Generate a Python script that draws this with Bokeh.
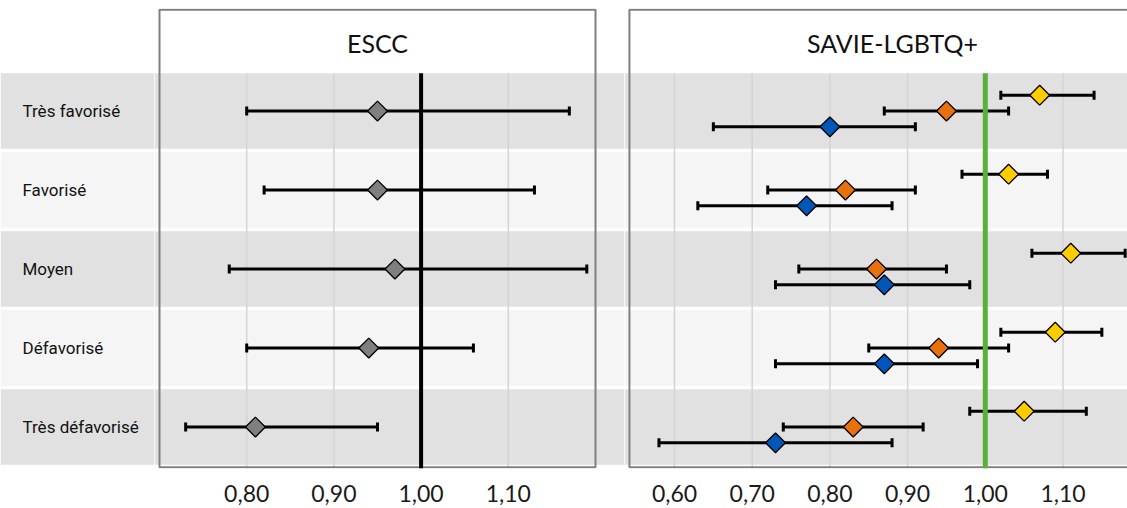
import numpy as np
from bokeh.plotting import figure
from bokeh.models import Range1d, FixedTicker, CustomJSTickFormatter, BoxAnnotation
from bokeh.layouts import row
from bokeh.embed import file_html
from bokeh.resources import INLINE
from bokeh.core.properties import value

# ---------------- data ----------------
categories = ["Très favorisé", "Favorisé", "Moyen", "Défavorisé", "Très défavorisé"]

escc_est = [0.95, 0.95, 0.97, 0.94, 0.81]
escc_lo = [0.80, 0.82, 0.78, 0.80, 0.73]
escc_hi = [1.17, 1.13, 1.19, 1.06, 0.95]

savie_jaune_est = [1.07, 1.03, 1.11, 1.09, 1.05]
savie_jaune_lo = [1.02, 0.97, 1.06, 1.02, 0.98]
savie_jaune_hi = [1.14, 1.08, 1.18, 1.15, 1.13]

savie_orange_est = [0.95, 0.82, 0.86, 0.94, 0.83]
savie_orange_lo = [0.87, 0.72, 0.76, 0.85, 0.74]
savie_orange_hi = [1.03, 0.91, 0.95, 1.03, 0.92]

savie_bleu_est = [0.80, 0.77, 0.87, 0.87, 0.73]
savie_bleu_lo = [0.65, 0.63, 0.73, 0.73, 0.58]
savie_bleu_hi = [0.91, 0.88, 0.98, 0.99, 0.88]

escc_ticks = [0.80, 0.90, 1.00, 1.10]
savie_ticks = [0.60, 0.70, 0.80, 0.90, 1.00, 1.10]
reference_value = 1.00

panel_titles = ["ESCC", "SAVIE-LGBTQ+"]

# ---------------- layout / style ----------------
ROW_PX = 79.0
FRAME_H = 460
TOP_PAD = 8
BOTTOM_PAD = 40
Y_BOTTOM = 0.475
Y_TOP = Y_BOTTOM + FRAME_H / ROW_PX
BAND_HALF = 0.4775
BAND_TOP = 5 + BAND_HALF
rows_y = [5, 4, 3, 2, 1]
OFFSET = 0.2

BAND_COLORS = ["#e1e1e1", "#f5f5f5", "#e1e1e1", "#f5f5f5", "#e1e1e1"]
BORDER_COLOR = "#7f7f7f"
GRID_COLOR = "#d4d4d4"
TICK_FONT = "Lato"
LABEL_FONT = "Roboto"

LABEL_W = 154
ESCC_W = 470
SAVIE_W = 503

ESCC_PX_UNIT = 872.0
ESCC_PANEL = (0.70, 1.20)
escc_start = ESCC_PANEL[0] - 5 / ESCC_PX_UNIT
escc_end = escc_start + ESCC_W / ESCC_PX_UNIT

SAVIE_PX_UNIT = 777.0
SAVIE_PANEL = (0.542, 1.219)
savie_start = 0.60 - 50 / SAVIE_PX_UNIT
savie_end = savie_start + SAVIE_W / SAVIE_PX_UNIT

BORDER_B = Y_BOTTOM + 1.2 / ROW_PX
BORDER_T = Y_TOP - 1.2 / ROW_PX

fmt = CustomJSTickFormatter(code="return tick.toFixed(2).replace('.', ',');")


def base_fig(w, xr):
    p = figure(frame_width=w, frame_height=FRAME_H, x_range=xr,
               y_range=Range1d(Y_BOTTOM, Y_TOP), output_backend="svg",
               toolbar_location=None, tools="", y_axis_location=None)
    p.min_border = 0
    p.min_border_top = TOP_PAD
    p.min_border_bottom = BOTTOM_PAD
    p.outline_line_color = None
    p.background_fill_color = "white"
    p.border_fill_color = "white"
    p.grid.visible = False
    for yv, c in zip(rows_y, BAND_COLORS):
        p.add_layout(BoxAnnotation(bottom=yv - BAND_HALF, top=yv + BAND_HALF,
                                   fill_color=c, fill_alpha=1.0, line_color=None,
                                   level="underlay"))
    ax = p.xaxis[0]
    ax.formatter = fmt
    ax.axis_line_color = None
    ax.major_tick_line_color = None
    ax.minor_tick_line_color = None
    ax.major_label_text_font = TICK_FONT
    ax.major_label_text_font_size = "23px"
    ax.major_label_text_color = "#1a1a1a"
    ax.major_label_standoff = 10
    return p


def panel(p, ticks, panel_rng, title):
    p.segment(x0=ticks, y0=[Y_BOTTOM] * len(ticks), x1=ticks, y1=[BAND_TOP] * len(ticks),
              line_color=GRID_COLOR, line_width=1.5)
    p.quad(left=[panel_rng[0]], right=[panel_rng[1]], bottom=[BORDER_B], top=[BORDER_T],
           fill_color=None, line_color=BORDER_COLOR, line_width=2)
    p.text(x=[(panel_rng[0] + panel_rng[1]) / 2], y=[5.86], text=[title],
           text_font=value("Lato"), text_font_size="25px", text_align="center",
           text_baseline="middle", text_color="#111111")
    p.xaxis[0].ticker = FixedTicker(ticks=ticks)


def series(p, est, lo, hi, ys, color):
    p.segment(x0=lo, y0=ys, x1=hi, y1=ys, line_color="black", line_width=3)
    p.scatter(x=lo + hi, y=ys + ys, marker="dash", angle=np.pi / 2, size=9,
              line_color="black", line_width=3)
    return (est, ys, color)


def diamonds(p, est, ys, color):
    p.scatter(x=est, y=ys, marker="square", angle=np.pi / 4, size=14,
              fill_color=color, line_color="black", line_width=1.3)


# label figure
pl = base_fig(LABEL_W, Range1d(0, 1))
pl.xaxis[0].ticker = FixedTicker(ticks=[])
pl.text(x=[0] * 5, y=rows_y, text=categories, x_offset=22,
        text_font=value(LABEL_FONT), text_font_size="17px",
        text_align="left", text_baseline="middle", text_color="#111111")

# ESCC
pe = base_fig(ESCC_W, Range1d(escc_start, escc_end))
panel(pe, escc_ticks, ESCC_PANEL, panel_titles[0])
d1 = series(pe, escc_est, escc_lo, escc_hi, rows_y, "#7f7f7f")
pe.segment(x0=[reference_value], y0=[Y_BOTTOM], x1=[reference_value], y1=[BAND_TOP],
           line_color="black", line_width=4)
diamonds(pe, *d1)

# SAVIE
ps = base_fig(SAVIE_W, Range1d(savie_start, savie_end))
panel(ps, savie_ticks, SAVIE_PANEL, panel_titles[1])
ys_j = [y + OFFSET for y in rows_y]
ys_o = list(rows_y)
ys_b = [y - OFFSET for y in rows_y]
dj = series(ps, savie_jaune_est, savie_jaune_lo, savie_jaune_hi, ys_j, "#ffcc00")
do = series(ps, savie_orange_est, savie_orange_lo, savie_orange_hi, ys_o, "#e8700e")
db = series(ps, savie_bleu_est, savie_bleu_lo, savie_bleu_hi, ys_b, "#0057b7")
ps.segment(x0=[reference_value], y0=[Y_BOTTOM], x1=[reference_value], y1=[BAND_TOP],
           line_color="#5ab03c", line_width=5)
for d in (dj, do, db):
    diamonds(ps, *d)

layout = row(pl, pe, ps, spacing=0)
open("out.html", "w").write(file_html(layout, INLINE))
